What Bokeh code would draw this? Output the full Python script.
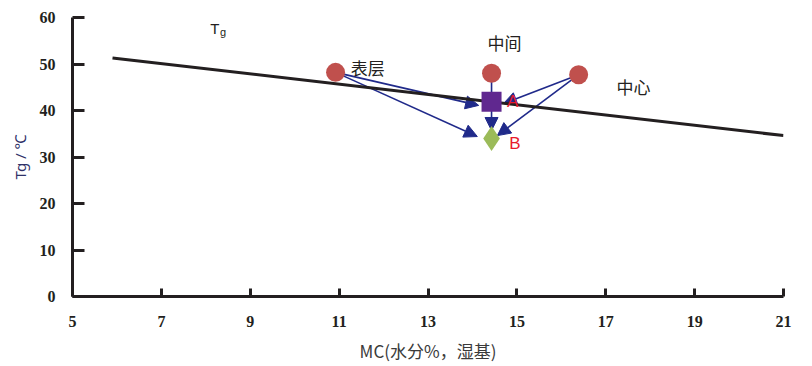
from bokeh.plotting import figure
from bokeh.models import Arrow, NormalHead, Range1d, FixedTicker, Title
from bokeh.core.properties import value
from bokeh.embed import file_html
from bokeh.resources import INLINE

# Data
line_x = [5.9, 21.0]
line_y = [51.3, 34.6]

circle_x = [10.92, 14.43, 16.39]
circle_y = [48.2, 48.0, 47.7]
circle_names = ["表层", "中间", "中心"]

square_x = [14.43]
square_y = [41.9]
diamond_x = [14.43]
diamond_y = [34.0]

arrow_x_start = [10.92, 10.92, 14.43, 16.39, 16.39]
arrow_y_start = [48.2, 48.2, 48.0, 47.7, 47.7]
arrow_x_end = [14.14, 14.11, 14.43, 14.70, 14.56]
arrow_y_end = [41.1, 34.4, 35.7, 41.5, 34.6]

x_ticks = [5, 7, 9, 11, 13, 15, 17, 19, 21]
y_ticks = [0, 10, 20, 30, 40, 50, 60]

label_x = [11.26, 14.34, 17.24]
label_y = [49.2, 54.6, 45.2]

ink = "#231f20"
navy = "#202a8a"
ylab_color = "#2f3168"

p = figure(width=812, height=366, output_backend="svg", toolbar_location=None,
           x_range=Range1d(5, 21), y_range=Range1d(0, 60),
           min_border_left=72, min_border_right=29, min_border_top=17, min_border_bottom=70)
p.outline_line_color = None
p.xgrid.visible = False
p.ygrid.visible = False

for ax in (p.xaxis[0], p.yaxis[0]):
    ax.axis_line_width = 3
    ax.axis_line_color = ink
    ax.major_tick_line_width = 3
    ax.major_tick_line_color = ink
    ax.major_tick_out = 0
    ax.minor_tick_line_color = None
    ax.major_label_text_font = "Liberation Sans Narrow"
    ax.major_label_text_font_size = "16px"
    ax.major_label_text_font_style = "bold"
    ax.major_label_text_color = ink

p.xaxis[0].ticker = FixedTicker(ticks=x_ticks)
p.yaxis[0].ticker = FixedTicker(ticks=y_ticks)
p.xaxis[0].major_tick_in = 8
p.yaxis[0].major_tick_in = 12
p.xaxis[0].major_label_standoff = 19
p.yaxis[0].major_label_standoff = 17
p.xaxis[0].axis_label = "MC(水分%，湿基)"
p.xaxis[0].axis_label_text_font = "Noto Sans CJK SC"
p.xaxis[0].axis_label_text_font_style = "normal"
p.xaxis[0].axis_label_text_font_size = "17px"
p.xaxis[0].axis_label_text_color = "#3a3a3a"
p.xaxis[0].axis_label_standoff = 8

# y-axis title on the left side, shifted upward like the reference
p.add_layout(Title(text="Tg / ℃", align="center", offset=22, text_font="Noto Sans",
                   text_font_size="15px", text_font_style="normal",
                   text_color=ylab_color, standoff=13), "left")

# fit line
p.line(line_x, line_y, line_width=3, line_color=ink)

# arrows (under markers)
for xs, ys, xe, ye in zip(arrow_x_start, arrow_y_start, arrow_x_end, arrow_y_end):
    p.add_layout(Arrow(x_start=xs, y_start=ys, x_end=xe, y_end=ye,
                       line_color=navy, line_width=1.6, level="underlay",
                       end=NormalHead(size=13, fill_color=navy, line_color=navy)))

p.scatter(circle_x, circle_y, marker="circle", size=19, fill_color="#c0504d", line_color=None)
p.scatter(square_x, square_y, marker="square", size=20, fill_color="#60288f", line_color=None)
p.scatter(diamond_x, diamond_y, marker="diamond", size=25, fill_color="#9bbb59", line_color=None)

p.text(label_x, label_y, text=circle_names, text_font=value("Noto Sans CJK SC"),
       text_font_size="17px", text_color=ink, text_align="left", text_baseline="middle")

p.text([14.78], [42.0], text=["A"], text_font=value("Liberation Sans"), text_font_size="17px",
       text_color="#e8192c", text_baseline="middle")
p.text([14.83], [32.9], text=["B"], text_font=value("Liberation Sans"), text_font_size="17px",
       text_color="#e8192c", text_baseline="middle")

p.text([8.1], [57.6], text=["T"], text_font=value("Liberation Sans"), text_font_size="15px",
       text_color=ink, text_baseline="middle")
p.text([8.32], [56.8], text=["g"], text_font=value("Liberation Sans"), text_font_size="11px",
       text_color=ink, text_baseline="middle")

open("out.html", "w").write(file_html(p, INLINE))
